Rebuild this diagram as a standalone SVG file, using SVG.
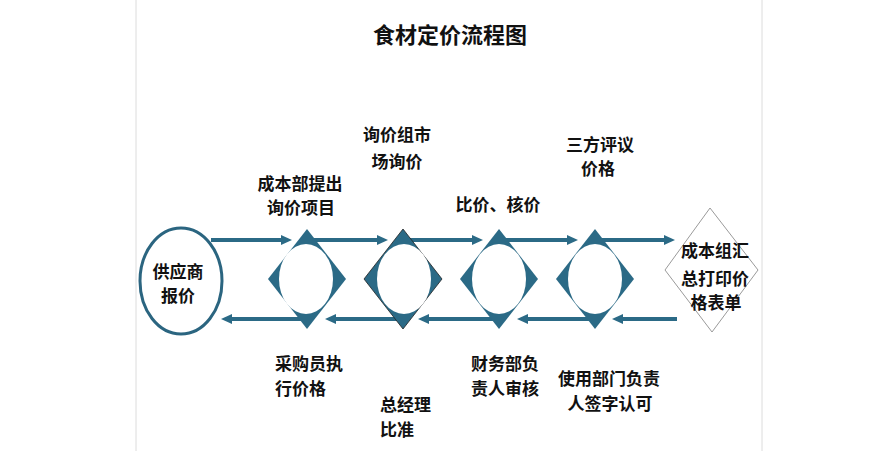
<svg xmlns="http://www.w3.org/2000/svg" width="893" height="451" viewBox="0 0 893 451">
<style>
.t{font-family:"Noto Sans CJK SC","Noto Sans CJK JP",sans-serif;font-weight:bold;font-size:17px;fill:#111}
.c{text-anchor:middle}
.dia{fill:#2b6a86}
.hole{fill:#fff}
.ln{stroke:#2b6a86;stroke-width:4;fill:none;marker-end:url(#ah)}
.border{stroke:#dcdcdc;stroke-width:1}
</style>
<defs>
<marker id="ah" markerUnits="userSpaceOnUse" markerWidth="12" markerHeight="12" refX="5" refY="5" orient="auto">
<path d="M0,0 L11,5 L0,10 z" fill="#2b6a86"/>
</marker>
</defs>
<rect width="893" height="451" fill="#fff"/>
<line class="border" x1="136" y1="0" x2="136" y2="451"/>
<line class="border" x1="762" y1="0" x2="762" y2="451"/>
<text id="title" class="t c" x="450" y="43" style="font-size:22px">食材定价流程图</text>
<g id="connectors">
<line class="ln" x1="211" y1="240" x2="286" y2="240"/>
<line class="ln" x1="307" y1="240" x2="382" y2="240"/>
<line class="ln" x1="403" y1="240" x2="477" y2="240"/>
<line class="ln" x1="499" y1="240" x2="572" y2="240"/>
<line class="ln" x1="595" y1="240" x2="669" y2="240"/>
<line class="ln" x1="677" y1="319" x2="618" y2="319"/>
<line class="ln" x1="595" y1="319" x2="523" y2="319"/>
<line class="ln" x1="499" y1="319" x2="424" y2="319"/>
<line class="ln" x1="403" y1="319" x2="331" y2="319"/>
<line class="ln" x1="307" y1="319" x2="227" y2="319"/>
</g>
<g id="supplier">
<ellipse cx="181" cy="281" rx="41" ry="53" fill="#fff" stroke="#2b6580" stroke-width="3"/>
<text class="t c" x="178" y="278">供应商</text>
<text class="t c" x="178" y="302">报价</text>
</g>
<g id="step1">
<polygon class="dia" points="307,229 346,279 307,329 268,279"/>
<ellipse class="hole" cx="306" cy="279" rx="27" ry="35"/>
</g>
<g id="step2">
<polygon class="dia" points="403,229 442,279 403,329 364,279" stroke="#222" stroke-width="0.8"/>
<ellipse class="hole" cx="404" cy="279" rx="27" ry="35"/>
</g>
<g id="step3">
<polygon class="dia" points="499,229 538,279 499,329 460,279"/>
<ellipse class="hole" cx="499" cy="279" rx="27" ry="35"/>
</g>
<g id="step4">
<polygon class="dia" points="595,229 634,279 595,329 556,279"/>
<ellipse class="hole" cx="595" cy="279" rx="27" ry="35"/>
</g>
<g id="final">
<polygon points="710,208 758,270 712,332 665,270" fill="#fff" stroke="#9a9a9a" stroke-width="1"/>
<text class="t c" x="715" y="257">成本组汇</text>
<text class="t c" x="715" y="285">总打印价</text>
<text class="t c" x="716" y="309">格表单</text>
</g>
<g id="labels">
<text class="t c" x="397" y="141">询价组市</text>
<text class="t c" x="397" y="168">场询价</text>
<text class="t c" x="300" y="190">成本部提出</text>
<text class="t c" x="301" y="214">询价项目</text>
<text class="t c" x="498" y="211">比价、核价</text>
<text class="t c" x="600" y="151">三方评议</text>
<text class="t c" x="598" y="175">价格</text>
<text class="t" x="275" y="370">采购员执</text>
<text class="t" x="275" y="395">行价格</text>
<text class="t" x="380" y="411">总经理</text>
<text class="t" x="380" y="436">比准</text>
<text class="t" x="471" y="370">财务部负</text>
<text class="t" x="471" y="395">责人审核</text>
<text class="t c" x="609" y="385">使用部门负责</text>
<text class="t c" x="610" y="410">人签字认可</text>
</g>
</svg>
